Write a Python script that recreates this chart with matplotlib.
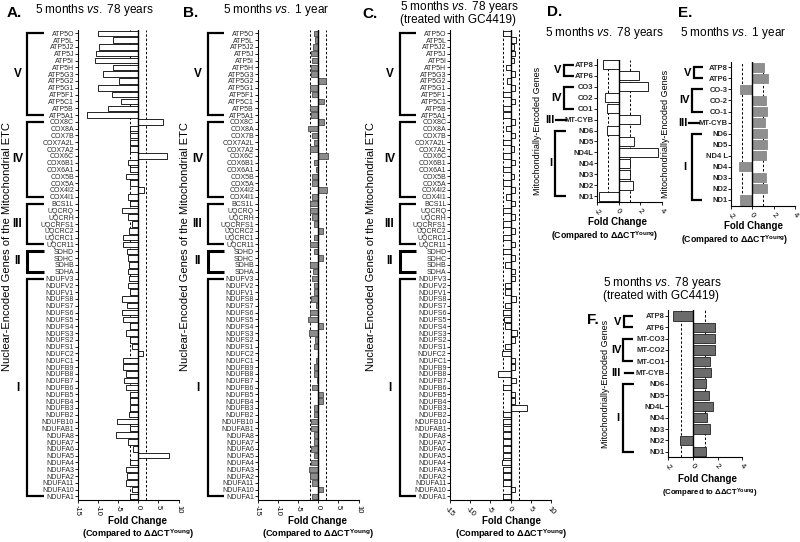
import matplotlib
matplotlib.use("Agg")
import matplotlib.pyplot as plt
from matplotlib.transforms import blended_transform_factory

plt.rcParams['font.family'] = ['Liberation Sans', 'DejaVu Sans']
plt.rcParams['mathtext.fontset'] = 'custom'
plt.rcParams['mathtext.rm'] = 'Liberation Sans'
plt.rcParams['mathtext.it'] = 'Liberation Sans:italic'
plt.rcParams['mathtext.bf'] = 'Liberation Sans:bold'

# ---------------- data ----------------
nuc_genes = ['ATP5O', 'ATP5L', 'ATP5J2', 'ATP5J', 'ATP5I', 'ATP5H', 'ATP5G3', 'ATP5G2', 'ATP5G1',
             'ATP5F1', 'ATP5C1', 'ATP5B', 'ATP5A1',
             'COX8C', 'COX8A', 'COX7B', 'COX7A2L', 'COX7A2', 'COX6C', 'COX6B1', 'COX6A1', 'COX5B',
             'COX5A', 'COX4I2', 'COX4I1',
             'BCS1L', 'UQCRQ', 'UQCRH', 'UQCRFS1', 'UQCRC2', 'UQCRC1', 'UQCR11',
             'SDHD', 'SDHC', 'SDHB', 'SDHA',
             'NDUFV3', 'NDUFV2', 'NDUFV1', 'NDUFS8', 'NDUFS7', 'NDUFS6', 'NDUFS5', 'NDUFS4', 'NDUFS3',
             'NDUFS2', 'NDUFS1', 'NDUFC2', 'NDUFC1', 'NDUFB9', 'NDUFB8', 'NDUFB7', 'NDUFB6', 'NDUFB5',
             'NDUFB4', 'NDUFB3', 'NDUFB2', 'NDUFB10', 'NDUFAB1', 'NDUFA8', 'NDUFA7', 'NDUFA6', 'NDUFA5',
             'NDUFA4', 'NDUFA3', 'NDUFA2', 'NDUFA11', 'NDUFA10', 'NDUFA1']

# (complex label, first row, last row)
nuc_complexes = [('V', 0, 12), ('IV', 13, 24), ('III', 25, 31), ('II', 32, 35), ('I', 36, 68)]

vals_A = [-9.9, -6.2, -9.6, -10.3, -10.7, -6.1, -8.8, -4.8, -10.0, -6.4, -4.3, -7.5, -12.6,
          6.1, -2.1, -2.1, -2.1, -2.1, 7.1, -2.5, -2.1, -3.1, -2.1, 1.4, -2.5,
          -2.0, -4.0, -2.6, -1.6, -2.3, -3.8, -3.8,
          -2.8, -2.5, -2.3, -2.5,
          -2.3, -2.5, -1.9, -4.0, -2.7, -4.0, -3.7, -1.9, -2.9, -2.1, -1.5, 1.2, -3.7, -3.8, -3.1,
          -3.5, -3.0, -2.1, -1.9, -1.9, -2.3, -5.2, -2.1, -5.4, -2.5, -1.2, 7.6, -2.1, -3.1, -2.7,
          -3.1, -1.6, -1.9]

vals_B = [-1.0, -0.7, -1.2, -1.8, -1.5, -1.7, -1.8, 2.0, -2.1, -1.4, 1.4, -2.1, -1.8,
          1.5, -2.4, -1.4, -1.0, -1.9, 2.5, -1.1, -0.5, -1.5, -1.5, 2.2, -1.4,
          -2.0, -1.9, -1.6, -1.1, 1.2, -1.0, -1.9,
          -0.9, 1.3, -2.1, -1.3,
          -1.4, -1.1, -1.1, -1.8, -0.6, -1.9, -2.4, 1.1, -2.3, -0.7, -1.1, 0.05, -0.6, -1.0, -1.1,
          -0.2, -1.5, 1.3, 1.1, -1.1, -1.1, -1.8, -1.7, -1.0, -1.0, -1.8, -1.1, -1.7, -2.2, -2.0,
          -1.5, 1.1, -1.5]

vals_C = [-2.0, 1.3, 0.9, 1.2, 0.9, -1.1, 1.0, -1.0, 1.0, -2.0, 1.0, -1.9, -1.9,
          1.0, -1.2, 1.0, -1.9, 0.8, -2.0, 1.0, -1.8, 0.9, -2.0, 1.0, -1.2,
          1.0, -2.0, 1.0, -1.8, 1.0, -1.9, 1.0,
          -1.9, 1.0, -1.5, 1.0,
          1.0, -1.3, -1.3, 1.3, -1.5, -1.8, -1.7, -1.5, 1.6, 1.0, -1.3, -2.2, 1.0, 1.0, -3.0,
          1.3, -2.0, 1.0, 1.0, 4.0, -2.0, -2.0, -2.0, -2.0, -2.0, -2.0, -2.0, -2.2, -2.0, -2.0,
          -2.0, 1.0, -2.0]

mito_genes_D = ['ATP8', 'ATP6', 'CO3', 'CO2', 'CO1', 'MT-CYB', 'ND6', 'ND5', 'ND4L', 'ND4', 'ND3', 'ND2', 'ND1']
mito_genes_E = ['ATP8', 'ATP6', 'CO-3', 'CO-2', 'CO-1', 'MT-CYB', 'ND6', 'ND5', 'ND4 L', 'ND4', 'ND3', 'ND2', 'ND1']
mito_genes_F = ['ATP8', 'ATP6', 'MT-CO3', 'MT-CO2', 'MT-CO1', 'MT-CYB', 'ND6', 'ND5', 'ND4L', 'ND4', 'ND3', 'ND2', 'ND1']
mito_complexes = [('V', 0, 1), ('IV', 2, 4), ('III', 5, 5), ('I', 6, 12)]

vals_D = [-1.45, 1.9, 2.7, -1.26, -1.08, 1.94, -1.08, 1.38, 3.63, 1.0, 1.0, 1.3, -1.85]
vals_E = [1.1, 1.5, -1.15, 1.3, 1.4, 1.2, 1.4, 1.4, 1.3, -1.25, 1.25, 1.4, -1.2]
vals_F = [-1.58, 1.77, 1.77, 1.77, 1.41, 1.47, 1.09, 1.3, 1.6, 1.11, 1.36, -1.03, 1.06]

nuc_ticks = [-15, -10, -5, 0, 5, 10]
mito_ticks = [-2, 0, 2, 4]

# ---------------- figure ----------------
W, H = 800, 542
fig = plt.figure(figsize=(W / 100, H / 100), dpi=100)


def axes_px(left, right, top, bottom):
    return fig.add_axes([left / W, 1 - bottom / H, (right - left) / W, (bottom - top) / H])


def ftext(x, y, s, **kw):
    kw.setdefault('ha', 'left')
    kw.setdefault('va', 'center')
    fig.text(x / W, 1 - y / H, s, **kw)


def style_axes(ax, genes, ticks, xlim, thresh, rot, glabel_fs, gbold, tick_fs):
    n = len(genes)
    ax.set_ylim(n - 0.5, -0.5)
    ax.set_xlim(*xlim)
    for s in ['top', 'right']:
        ax.spines[s].set_visible(False)
    for s in ['left', 'bottom']:
        ax.spines[s].set_linewidth(0.8)
    ax.axvline(0, color='black', lw=1.0, zorder=3)
    for t in (-thresh, thresh):
        ax.axvline(t, color='black', lw=0.7, ls=(0, (2.5, 2)), zorder=1)
    ax.set_yticks(range(n))
    ax.set_yticklabels(genes, fontsize=glabel_fs, fontweight='bold' if gbold else 'normal',
                       color='#2a2a2a')
    ax.tick_params(axis='y', length=2, width=0.6, pad=0.5)
    ax.set_xticks(ticks)
    ax.set_xticklabels([str(t) for t in ticks], rotation=rot, fontsize=tick_fs,
                       ha='center', va='top')
    ax.tick_params(axis='x', length=2.5, width=0.6, pad=1.5)


def bracket(ax, xv, xa, r0, r1, lab, xl, lw=1.5, fs=8.5):
    tr = blended_transform_factory(fig.transFigure, ax.transData)
    if r0 == r1:
        ax.plot([xv / W, xa / W], [r0, r0], transform=tr, color='black', lw=lw, clip_on=False)
    else:
        ax.plot([xa / W, xv / W, xv / W, xa / W], [r0, r0, r1, r1], transform=tr, color='black',
                lw=lw, clip_on=False, solid_joinstyle='miter', solid_capstyle='butt')
    ax.text(xl / W, (r0 + r1) / 2, lab, transform=tr, ha='center', va='center',
            fontweight='bold', fontsize=fs)


# ---------- nuclear panels A, B, C ----------
nuc_specs = [
    # left, right, values, face, edge, bracket_v, bracket_arm, roman_x, ylabel_x, rot
    (77.5, 178.5, vals_A, 'white', 'black', 26.7, 43.5, 17.5, 7.5, -90),
    (257.5, 358.5, vals_B, '#8c8c8c', '#4a4a4a', 208.3, 223.5, 197.5, 185.5, -90),
    (450.0, 551.0, vals_C, 'white', 'black', 400.0, 415.5, 389.5, 371.0, -45),
]
for left, right, vals, fc, ec, xv, xa, xl, ylx, rot in nuc_specs:
    ax = axes_px(left, right, 29.9, 499.9)
    ax.barh(range(len(nuc_genes)), vals, height=0.8, color=fc, edgecolor=ec, linewidth=0.6, zorder=2)
    style_axes(ax, nuc_genes, nuc_ticks, (-15, 10), 2, rot, 5, False, 5.5)
    for lab, r0, r1 in nuc_complexes:
        bracket(ax, xv, xa, r0, r1, lab, xl, lw=1.6 if lab != 'II' else 2.2)
    ftext(ylx, 246.5, 'Nuclear-Encoded Genes of the Mitochondrial ETC', rotation=90,
          ha='center', va='center', fontsize=8)

# x labels for A, B, C
for cx in (137.7, 318.0, 511.0):
    ftext(cx, 521, 'Fold Change', ha='center', fontweight='bold', fontsize=7)
    ftext(cx, 534.0, r'(Compared to ΔΔCT$^{\mathbf{Young}}$)', ha='center', fontweight='bold', fontsize=6.6)

# titles A, B, C
ftext(7, 13, 'A.', fontweight='bold', fontsize=11)
ftext(35, 10, r'5 months $\mathit{vs.}$ 78 years', fontsize=8.5)
ftext(183, 13, 'B.', fontweight='bold', fontsize=11)
ftext(223, 10, r'5 months $\mathit{vs.}$ 1 year', fontsize=8.5)
ftext(362, 14, 'C.', fontweight='bold', fontsize=11)
ftext(400.5, 7.0, r'5 months $\mathit{vs.}$ 78 years', fontsize=8.5)
ftext(400.5, 19.5, '(treated with GC4419)', fontsize=8.5)

# ---------- mitochondrial panels D, E, F ----------
mito_specs = [
    # left, right, top, bottom, genes, values, face, edge, brackets{lab:(xv, xa, xl)},
    # ylabel_x, foldchange_cx, foldchange_y, compared_cx, compared_fs
    (597.0, 662.0, 59.5, 201.5, mito_genes_D, vals_D, 'white', 'black',
     {'V': (563.5, 573.5, 558.0), 'IV': (563.5, 573.5, 557.0), 'III': (555.7, 566.0, 550.0),
      'I': (555.0, 565.5, 550.7)}, 537.3, 618.0, 222.0, 605.0, 6.3),
    (731.0, 795.0, 61.8, 205.5, mito_genes_E, vals_E, '#8f8f8f', '#8a8a8a',
     {'V': (694.3, 703.0, 688.0), 'IV': (692.0, 702.7, 685.0), 'III': (689.0, 699.0, 682.7),
      'I': (691.7, 701.7, 685.0)}, 665.0, 753.5, 226.0, 735.0, 6.3),
    (668.3, 742.3, 310.3, 457.4, mito_genes_F, vals_F, '#6b6b6b', '#222222',
     {'V': (624.0, 633.0, 618.0), 'IV': (623.0, 633.0, 617.0), 'III': (625.0, 633.0, 615.7),
      'I': (623.0, 634.0, 618.0)}, 605.0, 708.0, 479.0, 710.0, 5.6),
]
for (left, right, top, bottom, genes, vals, fc, ec, br, ylx, xcx, xly, ccx, cfs) in mito_specs:
    ax = axes_px(left, right, top, bottom)
    ax.barh(range(len(genes)), vals, height=0.82, color=fc, edgecolor=ec, linewidth=0.6, zorder=2)
    style_axes(ax, genes, mito_ticks, (-2, 4), 1, -45, 5.5, True, 5.5)
    for lab, r0, r1 in mito_complexes:
        xv, xa, xl = br[lab]
        bracket(ax, xv, xa, r0, r1, lab, xl, lw=1.6, fs=8)
    ftext(ylx, (top + bottom) / 2, 'Mitochondrially-Encoded Genes', rotation=90,
          ha='center', va='center', fontsize=6.5)
    ftext(xcx, xly, 'Fold Change', ha='center', fontweight='bold', fontsize=7)
    ftext(ccx, xly + 14, r'(Compared to ΔΔCT$^{\mathbf{Young}}$)', ha='center',
          fontweight='bold', fontsize=cfs)

ftext(547, 12, 'D.', fontweight='bold', fontsize=11)
ftext(545, 33, r'5 months $\mathit{vs.}$ 78 years', fontsize=8.5)
ftext(678, 13, 'E.', fontweight='bold', fontsize=11)
ftext(680, 33, r'5 months $\mathit{vs.}$ 1 year', fontsize=8.5)
ftext(587, 320, 'F.', fontweight='bold', fontsize=11)
ftext(603, 283, r'5 months $\mathit{vs.}$ 78 years', fontsize=8.5)
ftext(603, 296, '(treated with GC4419)', fontsize=8.5)

fig.savefig('out.png', dpi=100)
